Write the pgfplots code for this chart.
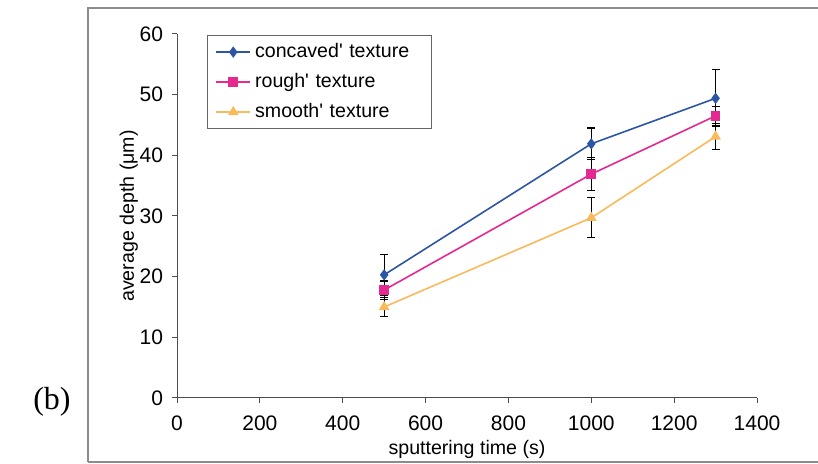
\documentclass[border=0pt]{standalone}
\usepackage{pgfplots}
\pgfplotsset{compat=1.18}
\usepackage{fontspec}
\setmainfont{Liberation Sans}
\newfontfamily\serif{Liberation Serif}
\definecolor{cblue}{RGB}{45,85,165}
\definecolor{cmag}{RGB}{230,40,145}
\definecolor{corange}{RGB}{250,185,90}
\begin{document}
\begin{tikzpicture}
\path[use as bounding box] (-88.5pt,-33pt) rectangle (320.5pt,199pt);
\draw[black!45, line width=0.6pt] (-44.5pt,-32pt) -- (-44.5pt,195pt) -- (320.5pt,195pt);
\draw[black!45, line width=0.6pt] (-44.5pt,-32pt) -- (320.5pt,-32pt);
\node[font=\serif\fontsize{16}{18}\selectfont] at (-62.5pt,-2pt) {(b)};
\begin{axis}[
  at={(0,0)}, anchor=south west,
  scale only axis, width=290pt, height=182pt,
  xmin=0, xmax=1400, ymin=0, ymax=60,
  xtick={0,200,...,1400}, ytick={0,10,...,60},
  axis x line*=bottom, axis y line*=left,
  axis line style={black!70, line width=0.5pt},
  tick align=outside, major tick length=2.5pt,
  tick style={black!70, line width=0.5pt},
  /pgf/number format/assume math mode=true,
  /pgf/number format/set thousands separator={},
  ticklabel style={font=\fontsize{10.5}{12}\selectfont},
  xticklabel style={yshift=-3pt},
  yticklabel style={xshift=-1pt},
  xlabel={sputtering time (s)}, ylabel={average depth (μm)},
  label style={font=\fontsize{9.8}{11}\selectfont},
  xlabel style={yshift=2pt},
  ylabel style={yshift=-6pt},
  legend style={at={(0.0517,0.997)}, anchor=north west, draw=black!60, line width=0.4pt,
    font=\fontsize{9.8}{11}\selectfont, row sep=2.4pt, inner xsep=4pt, inner ysep=2pt,
    text width=82pt},
  legend cell align=left,
  every axis plot/.append style={line width=0.8pt},
  error bars/error bar style={black, line width=0.6pt},
  error bars/error mark options={rotate=90, mark size=2pt, black, line width=0.6pt},
]
\addplot[color=cblue, mark=diamond*, mark size=2.2pt, mark options={fill=cblue},
  error bars/.cd, y dir=both, y explicit]
  coordinates {(500,20.3) +- (0,3.4) (1000,41.9) +- (0,2.6) (1300,49.4) +- (0,4.7)};
\addlegendentry{concaved\textquotesingle\ texture}
\addplot[color=cmag, mark=square*, mark size=2pt, mark options={fill=cmag},
  error bars/.cd, y dir=both, y explicit]
  coordinates {(500,17.8) +- (0,1.5) (1000,36.9) +- (0,2.7) (1300,46.5) +- (0,1.6)};
\addlegendentry{rough\textquotesingle\ texture}
\addplot[color=corange, mark=triangle*, mark size=2.3pt, mark options={fill=corange},
  error bars/.cd, y dir=both, y explicit]
  coordinates {(500,15.0) +- (0,1.6) (1000,29.7) +- (0,3.3) (1300,43.1) +- (0,2.2)};
\addlegendentry{smooth\textquotesingle\ texture}
\end{axis}
\end{tikzpicture}
\end{document}
